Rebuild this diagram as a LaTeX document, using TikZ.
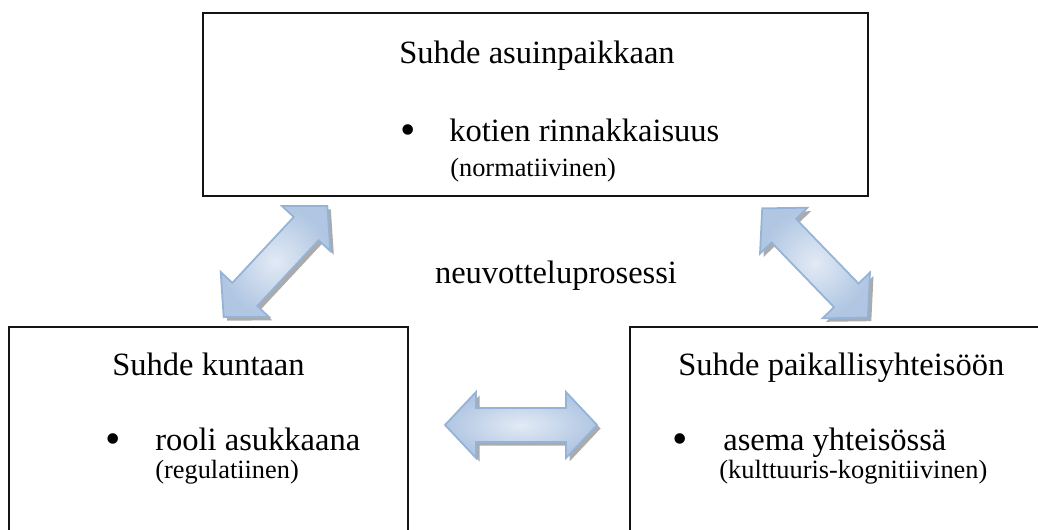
\documentclass[tikz,border=0pt]{standalone}
\usepackage{fontspec}
\setmainfont{Liberation Serif}
\usepackage{xcolor}
\usetikzlibrary{calc}

\definecolor{arrowline}{RGB}{149,179,215}
\definecolor{arrowlight}{RGB}{226,234,245}
\definecolor{arrowdark}{RGB}{176,198,226}
\definecolor{arrowshade}{RGB}{150,150,150}
\definecolor{boxline}{RGB}{20,20,20}

% double block arrow, #1 name, #2 centre, #3 angle
\newcommand{\dblarrow}[3]{%
	\begin{scope}[shift={#2}, xshift=.7mm, yshift=-.7mm, rotate=#3]
		\fill[arrowshade, opacity=.8] (-1.52,0) -- (-.9,.66) -- (-.9,.34) -- (.9,.34) -- (.9,.66) -- (1.52,0)
			-- (.9,-.66) -- (.9,-.34) -- (-.9,-.34) -- (-.9,-.66) -- cycle;
	\end{scope}
	\begin{scope}[shift={#2}, rotate=#3]
		\draw[blockarrow] (-1.52,0) -- (-.9,.66) -- (-.9,.34) -- (.9,.34) -- (.9,.66) -- (1.52,0)
			-- (.9,-.66) -- (.9,-.34) -- (-.9,-.34) -- (-.9,-.66) -- cycle;
		\coordinate (#1) at (0,0);
	\end{scope}}

\begin{document}
\begin{tikzpicture}[
	relbox/.style = {draw=boxline, line width=1.2pt, rectangle, inner sep=0pt},
	blockarrow/.style = {draw=arrowline, line width=1pt, line join=miter,
		shading=radial, inner color=arrowlight, outer color=arrowdark},
	head/.style = {inner sep=0pt, anchor=base west, font=\fontsize{18.5}{22}\selectfont},
	sub/.style = {inner sep=0pt, anchor=base west, font=\fontsize{15}{18}\selectfont},
	dot/.style = {inner sep=0pt, anchor=base, font=\fontsize{25}{28}\selectfont}]
	\path[use as bounding box, clip] (0,0) rectangle (20.76,10.58);

	% the three relations
	\node[relbox, minimum width=13.3cm, minimum height=3.66cm] (asuin) at (10.71,8.49) {};
	\node[relbox, minimum width=7.98cm, minimum height=4.6cm] (kunta) at (4.17,1.74) {};
	\node[relbox, minimum width=8.4cm, minimum height=4.6cm] (yhteiso) at (16.8,1.74) {};

	\node[head] (asuinT) at (7.98,9.32) {Suhde asuinpaikkaan};
	\node[dot] (asuinD) at (8.16,7.69) {\textbullet};
	\node[head] (asuinB) at (8.98,7.76) {kotien rinnakkaisuus};
	\node[sub] (asuinS) at (9.00,7.06) {(normatiivinen)};

	\node[head] (kuntaT) at (2.24,3.08) {Suhde kuntaan};
	\node[dot] (kuntaD) at (2.26,1.51) {\textbullet};
	\node[head] (kuntaB) at (3.10,1.58) {rooli asukkaana};
	\node[sub] (kuntaS) at (3.10,1.02) {(regulatiinen)};

	\node[head] (yhteisoT) at (13.56,3.08) {Suhde paikallisyhteisöön};
	\node[dot] (yhteisoD) at (13.60,1.51) {\textbullet};
	\node[head] (yhteisoB) at (14.46,1.58) {asema yhteisössä};
	\node[sub] (yhteisoS) at (14.38,1.02) {(kulttuuris-kognitiivinen)};

	\node[head, anchor=base] (neuvo) at (11.12,4.92) {neuvotteluprosessi};

	% negotiation arrows
	\dblarrow{ak}{(5.51,5.35)}{47}
	\dblarrow{ay}{(16.30,5.32)}{-46}
	\dblarrow{ky}{(10.42,2.08)}{0}
\end{tikzpicture}
\end{document}
